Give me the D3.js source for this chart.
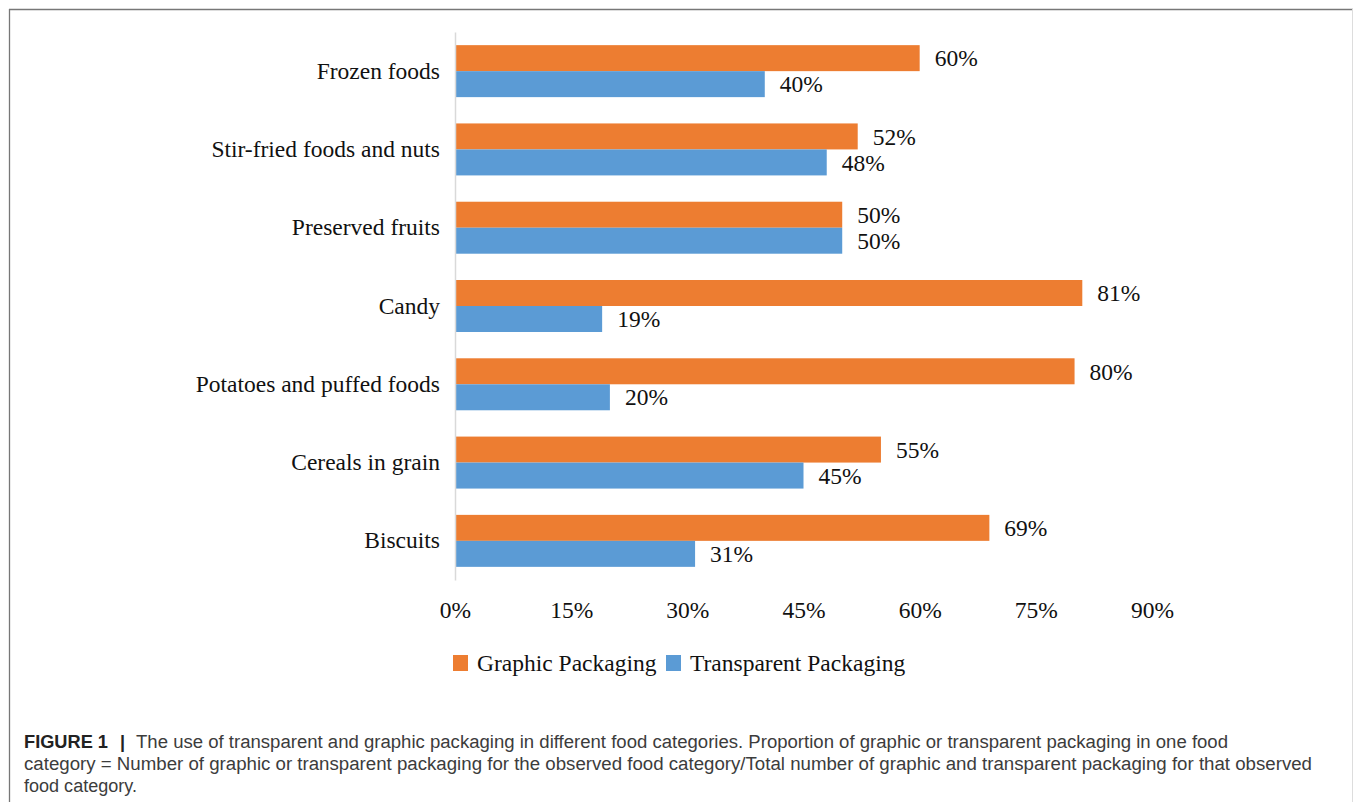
<!DOCTYPE html>
<html>
<head>
<meta charset="utf-8">
<script src="https://cdn.jsdelivr.net/npm/d3@7/dist/d3.min.js"></script>
<style>
  html, body { margin: 0; padding: 0; background: #fff; }
  svg { display: block; }
</style>
</head>
<body>
<svg id="chart" width="1355" height="802"></svg>
<script>
const categories = ["Frozen foods", "Stir-fried foods and nuts", "Preserved fruits", "Candy", "Potatoes and puffed foods", "Cereals in grain", "Biscuits"];
const seriesNames = ["Graphic Packaging", "Transparent Packaging"];
const graphicValues = [60, 52, 50, 81, 80, 55, 69];
const transparentValues = [40, 48, 50, 19, 20, 45, 31];
const tickValues = [0, 15, 30, 45, 60, 75, 90];
const colors = ["#ED7D31", "#5B9BD5"];
const captionLines = [
  "The use of transparent and graphic packaging in different food categories. Proportion of graphic or transparent packaging in one food",
  "category = Number of graphic or transparent packaging for the observed food category/Total number of graphic and transparent packaging for that observed",
  "food category."
];

const svg = d3.select("#chart");
const serif = "'Liberation Serif', 'Times New Roman', serif";
const fs = 23.5;

// frame
svg.append("line").attr("x1", 9.5).attr("x2", 9.5).attr("y1", 9).attr("y2", 802).attr("stroke", "#777").attr("stroke-width", 1.3);
svg.append("line").attr("x1", 9).attr("x2", 1353).attr("y1", 9.5).attr("y2", 9.5).attr("stroke", "#777").attr("stroke-width", 1.3);
svg.append("line").attr("x1", 1352.5).attr("x2", 1352.5).attr("y1", 9).attr("y2", 802).attr("stroke", "#ddd").attr("stroke-width", 1);

const x = d3.scaleLinear().domain([0, 90]).range([455, 1152]);
const y = d3.scaleBand().domain(categories).range([32, 580]).paddingInner(0.336).paddingOuter(0.168);
const ySub = d3.scaleBand().domain(seriesNames).range([0, y.bandwidth()]);

const data = categories.map((c, i) => ({ cat: c, values: [graphicValues[i], transparentValues[i]] }));

const groups = svg.append("g").selectAll("g").data(data).join("g")
  .attr("transform", d => `translate(0,${y(d.cat)})`);

groups.selectAll("rect").data(d => d.values.map((v, j) => ({ v, s: seriesNames[j], j })))
  .join("rect")
  .attr("x", x(0))
  .attr("y", d => ySub(d.s))
  .attr("width", d => x(d.v) - x(0))
  .attr("height", ySub.bandwidth())
  .attr("fill", d => colors[d.j]);

groups.selectAll("text.val").data(d => d.values.map((v, j) => ({ v, s: seriesNames[j], j })))
  .join("text")
  .attr("class", "val")
  .attr("x", d => x(d.v) + 15)
  .attr("y", d => ySub(d.s) + ySub.bandwidth() / 2)
  .attr("dy", "0.35em")
  .attr("font-family", serif)
  .attr("font-size", fs)
  .attr("fill", "#111")
  .text(d => d.v + "%");

// y axis
const yAxis = svg.append("g").attr("transform", `translate(${x(0)},0)`)
  .call(d3.axisLeft(y).tickSize(0).tickPadding(15));
yAxis.select(".domain").attr("stroke", "#d9d9d9").attr("stroke-width", 1.5);
yAxis.selectAll("text").attr("font-family", serif).attr("font-size", fs).attr("fill", "#111");

// x axis (labels only)
const xAxis = svg.append("g").attr("transform", `translate(0,610)`)
  .call(d3.axisBottom(x).tickValues(tickValues).tickSize(0).tickPadding(0).tickFormat(d => d + "%"));
xAxis.select(".domain").remove();
xAxis.selectAll("text").attr("font-family", serif).attr("font-size", fs).attr("fill", "#111").attr("dy", "0.35em");

// legend
const legendX = [453, 666];
const leg = svg.append("g").selectAll("g").data(seriesNames).join("g")
  .attr("transform", (d, i) => `translate(${legendX[i]},655)`);
leg.append("rect").attr("width", 15).attr("height", 16).attr("fill", (d, i) => colors[i]);
leg.append("text").attr("x", 24).attr("y", 8).attr("dy", "0.35em")
  .attr("font-family", serif).attr("font-size", fs).attr("fill", "#111").text(d => d);

// caption
const sans = "'Liberation Sans', Arial, sans-serif";
const cap = svg.append("g");
const baselines = [748, 770, 792];
cap.append("text").attr("x", 24).attr("y", baselines[0])
  .attr("font-family", sans).attr("font-size", 18).attr("font-weight", "bold").attr("fill", "#222")
  .attr("textLength", 84).attr("lengthAdjust", "spacingAndGlyphs").text("FIGURE 1");
cap.append("text").attr("x", 120).attr("y", baselines[0])
  .attr("font-family", sans).attr("font-size", 18).attr("font-weight", "bold").attr("fill", "#222").text("|");
const starts = [136, 24, 24];
const ends = [1228, 1312, 137];
captionLines.forEach((line, i) => {
  cap.append("text").attr("x", starts[i]).attr("y", baselines[i])
    .attr("font-family", sans).attr("font-size", 18).attr("fill", "#3c3c3c")
    .attr("textLength", ends[i] - starts[i]).attr("lengthAdjust", "spacingAndGlyphs")
    .text(line);
});
</script>
</body>
</html>
